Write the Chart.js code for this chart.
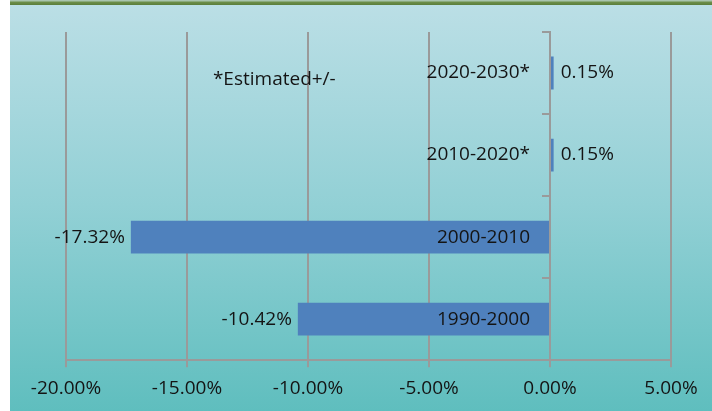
<!DOCTYPE html>
<html>
<head>
<meta charset="utf-8">
<script src="https://cdn.jsdelivr.net/npm/chart.js@4.4.1/dist/chart.umd.min.js"></script>
<style>
  html, body { margin: 0; padding: 0; background: #fff; }
  #wrap { position: relative; width: 712px; height: 411px; overflow: hidden; }
  #bg { position: absolute; left: 10px; top: 0; right: 0; bottom: 0;
        background: linear-gradient(to bottom, #bcdfe6 0%, #92d0d5 50%, #5fbebe 100%); }
  #topline { position: absolute; left: 10px; right: 0; top: 0; height: 5px;
        background: linear-gradient(to bottom, #a9c4ad 0px, #a9c4ad 1px, #6d8f4a 2px, #5b7e3b 5px); }
  canvas { position: absolute; left: 0; top: 0; }
</style>
</head>
<body>
<div id="wrap">
  <div id="bg"></div>
  <div id="topline"></div>
  <canvas id="growthChart" width="712" height="411"></canvas>
</div>
<script>
// dados do gráfico
const periods = ['1990-2000', '2000-2010', '2010-2020*', '2020-2030*'];
const changePct = [-10.42, -17.32, 0.15, 0.15];
const xTicks = [-20, -15, -10, -5, 0, 5];
const note = '*Estimated+/-';

const FONT = '"Open Sans", sans-serif';
const GRID = '#9a9a9a';
const TEXT = '#141414';

Chart.defaults.font.family = FONT;
Chart.defaults.font.size = 19;
Chart.defaults.color = TEXT;

// rótulos das categorias (junto ao eixo, por cima das barras), valores e a nota
const barLabels = {
    id: 'barLabels',
    afterDraw(chart) {
        const ctx = chart.ctx;
        const meta = chart.getDatasetMeta(0);
        const xs = chart.scales.x, ys = chart.scales.y;
        const zero = xs.getPixelForValue(0);
        ctx.save();
        ctx.font = '19px ' + FONT;
        ctx.fillStyle = TEXT;
        ctx.textBaseline = 'middle';
        meta.data.forEach((bar, i) => {
            const v = changePct[i];
            const txt = v.toFixed(2) + '%';
            if (v < 0) {
                ctx.textAlign = 'right';
                ctx.fillText(txt, bar.x - 6, bar.y);
            } else {
                ctx.textAlign = 'left';
                ctx.fillText(txt, bar.x + 7, bar.y);
            }
            // categoria
            ctx.textAlign = 'right';
            ctx.fillText(periods[i], zero - 20, ys.getPixelForValue(i));
        });
        ctx.textAlign = 'left';
        ctx.fillText(note, xs.getPixelForValue(-13.93), ys.getPixelForValue(3) + 7);
        ctx.restore();
    }
};

const ctx = document.getElementById('growthChart').getContext('2d');
const chart = new Chart(ctx, {
    type: 'bar',
    data: {
        labels: periods,
        datasets: [{
            data: changePct,
            backgroundColor: '#4f81bd',
            borderWidth: 0,
            categoryPercentage: 1,
            barPercentage: 0.4
        }]
    },
    options: {
        indexAxis: 'y', // barras horizontais
        responsive: false,
        animation: false,
        layout: { padding: { left: 66, right: 41, top: 32, bottom: 1 } },
        plugins: {
            legend: { display: false },
            tooltip: { enabled: false }
        },
        scales: {
            x: {
                min: -20,
                max: 5,
                afterBuildTicks: s => { s.ticks = xTicks.map(v => ({ value: v })); },
                grid: { color: GRID, lineWidth: 2, tickLength: 7, drawTicks: true },
                border: { display: true, color: GRID, width: 2 },
                ticks: {
                    padding: 10,
                    maxRotation: 0,
                    autoSkip: false,
                    callback: v => v.toFixed(2) + '%'
                }
            },
            y: {
                reverse: true,
                position: { x: 0 },
                grid: { drawOnChartArea: false, drawTicks: true, tickLength: 7, color: GRID, lineWidth: 2, offset: true },
                border: { display: true, color: GRID, width: 2 },
                ticks: { display: false }
            }
        }
    },
    plugins: [barLabels]
});
</script>
</body>
</html>
